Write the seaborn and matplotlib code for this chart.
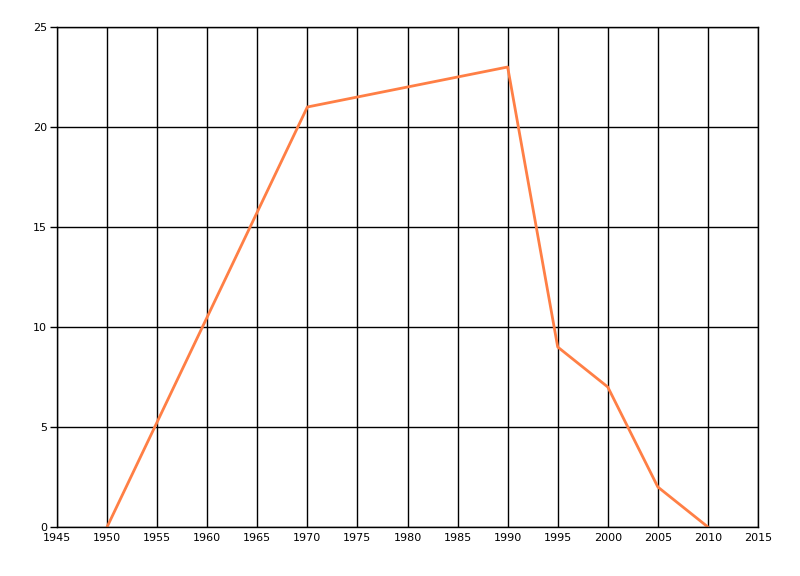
import seaborn as sns
import pandas as pd
import matplotlib.pyplot as plt

# Values
years = [1950, 1970, 1990, 1995, 2000, 2005, 2010]
values = [0, 21, 23, 9, 7, 2, 0]
x_ticks = list(range(1945, 2016, 5))
y_ticks = [0, 5, 10, 15, 20, 25]

df = pd.DataFrame({"Year": years, "Value": values})

sns.set_style("white")
plt.rcParams['font.family'] = ['DejaVu Sans']

fig = plt.figure(figsize=(8, 5.76), dpi=100)
ax = fig.add_axes([57 / 800, 49 / 576, 701 / 800, 500 / 576])

sns.lineplot(data=df, x="Year", y="Value", color="#ff7f45", linewidth=2, ax=ax)

ax.set_xlim(1945, 2015)
ax.set_ylim(0, 25)
ax.set_xticks(x_ticks)
ax.set_yticks(y_ticks)
ax.set_xlabel("")
ax.set_ylabel("")

# Black grid like the original chart control
ax.grid(True, color="black", linewidth=1)
ax.set_axisbelow(True)
for spine in ax.spines.values():
    spine.set_color("black")
    spine.set_linewidth(1)
    spine.set_visible(True)

ax.tick_params(axis="x", length=0, pad=4, labelsize=8, colors="black")
ax.tick_params(axis="y", left=True, length=5, width=1, pad=2, labelsize=8,
               colors="black", direction="out")

plt.savefig("out.png", dpi=100)
